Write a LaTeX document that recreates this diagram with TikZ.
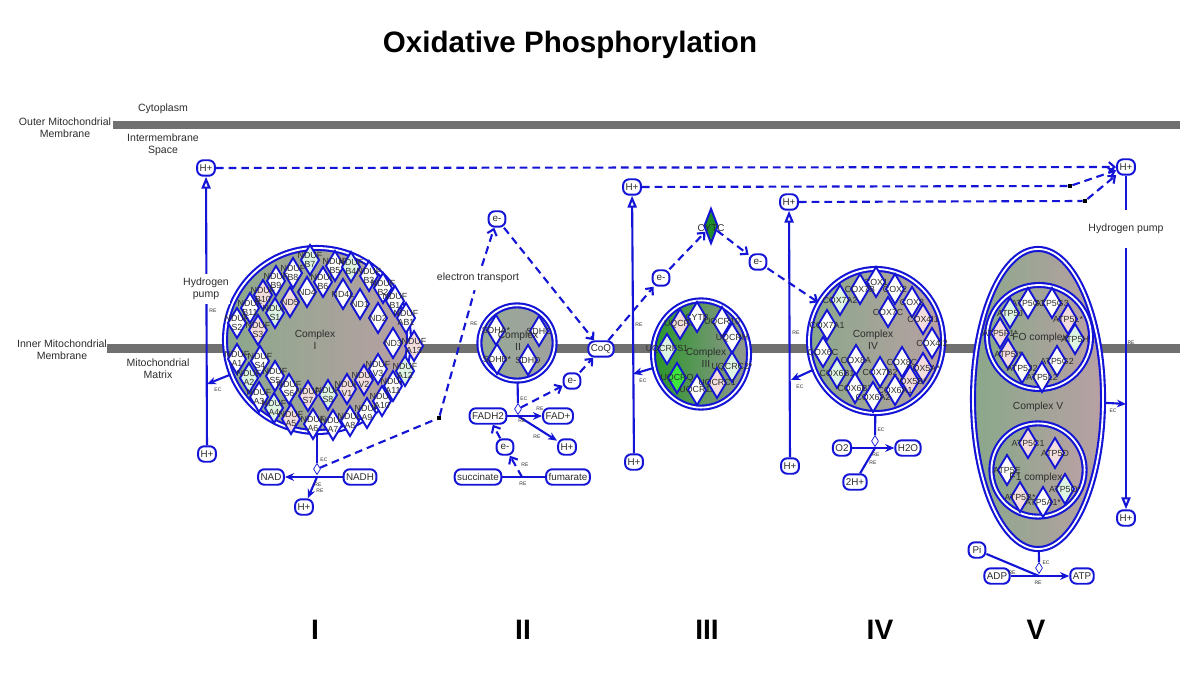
\documentclass[tikz,border=0pt]{standalone}
\usepackage{fontspec}
\setmainfont{Liberation Sans}
\usetikzlibrary{arrows.meta,shapes.geometric}
\definecolor{blu}{RGB}{20,20,215}
\definecolor{memb}{RGB}{112,112,112}
\definecolor{gL}{RGB}{138,168,138}
\definecolor{gR}{RGB}{184,160,164}
\definecolor{pk}{RGB}{242,220,220}
\definecolor{lg}{RGB}{222,244,226}
\definecolor{txt}{RGB}{45,45,45}
\definecolor{gIIL}{RGB}{150,170,150}
\definecolor{gIIR}{RGB}{160,160,158}
\definecolor{gIIIL}{RGB}{40,150,40}
\definecolor{gIIIM}{RGB}{70,150,60}
\definecolor{gIIIR}{RGB}{150,152,148}
\definecolor{bgr}{RGB}{60,230,60}
\definecolor{cytcg}{RGB}{30,140,40}
\newcounter{dmc}
\newcounter{tlc}
\newcommand\dmd[4][white]{\stepcounter{dmc}%
  \draw[blu, line width=1.35pt, fill=#1] (#2,#3) ++(0,-15) -- ++(9,15) -- ++(-9,15) -- ++(-9,-15) -- cycle;%
  \node[dlab] (dm\arabic{dmc}) at (#2,#3) {#4};}
\newcommand\tl[3]{\stepcounter{tlc}\node[tiny] (tl\arabic{tlc}) at (#1,#2) {#3};}
\begin{document}
\begin{tikzpicture}[x=0.025cm,y=-0.025cm,
  lab/.style={font=\fontsize{7.5}{8.6}\selectfont, text=txt, align=center, inner sep=1pt},
  dlab/.style={font=\fontsize{6.3}{6.7}\selectfont, text=txt, align=center, inner sep=0pt},
  clab/.style={font=\fontsize{7.3}{8.3}\selectfont, text=txt, align=center, inner sep=0pt},
  tiny/.style={font=\fontsize{3.6}{4}\selectfont, text=txt, inner sep=0pt},
  mol/.style={draw=blu, line width=1.4pt, fill=white, rounded corners=4.5pt, font=\fontsize{7}{8}\selectfont, text=txt, inner xsep=1.8pt, inner ysep=0pt, minimum height=11pt, minimum width=12pt},
  cplx/.style={draw=blu, line width=1.5pt, double=white, double distance=1.3pt, inner sep=0pt},
  sol/.style={blu, line width=1.5pt},
  dsh/.style={blu, line width=1.5pt, dash pattern=on 5.5pt off 3.5pt},
  arr/.style={-{Stealth[length=6.5pt,width=5.5pt]}},
  darr/.style={-{Straight Barb[length=4pt,width=7pt]}},
  opn/.style={-{Triangle[open,length=8.5pt,width=6.5pt,fill=white]}},
  jn/.style={diamond, draw=blu, fill=white, line width=0.5pt, minimum width=5pt, minimum height=8pt, inner sep=0pt},
  mk/.style={rectangle, fill=black, minimum size=3pt, inner sep=0pt},
  roman/.style={font=\bfseries\fontsize{20}{22}\selectfont}]
\useasboundingbox (0,0) rectangle (1200,674);
\fill[white] (0,0) rectangle (1200,674);

\node[font=\bfseries\fontsize{21}{24}\selectfont] (title) at (570,45) {Oxidative Phosphorylation};

% membranes
\fill[memb] (113,121) rectangle (1180,129);
\fill[memb] (107,344) rectangle (1180,353);
\node[lab] (cyt) at (163,109) {Cytoplasm};
\node[lab] (omm) at (65,128) {Outer Mitochondrial\\Membrane};
\node[lab] (ims) at (163,145) {Intermembrane\\Space};
\node[lab] (imm) at (62,350) {Inner Mitochondrial\\Membrane};
\node[lab] (mat) at (158,369) {Mitochondrial\\Matrix};

% complexes (bodies)
\node[cplx, circle, minimum size=4.6cm, left color=gL, right color=gR] (cI) at (317,340) {};
\node[cplx, circle, minimum size=1.88cm, left color=gIIL, right color=gIIR] (cII) at (517,343) {};
\node[cplx, ellipse, minimum width=2.4cm, minimum height=2.68cm, left color=gIIIL, middle color=gIIIM, right color=gIIIR] (cIII) at (701,354) {};
\node[cplx, ellipse, minimum width=3.35cm, minimum height=3.6cm, left color=gL, right color=gR] (cIV) at (876,341) {};
\node[cplx, ellipse, minimum width=3.25cm, minimum height=7.5cm, left color=gL, right color=gR] (cV) at (1038,399) {};
\node[cplx, circle, minimum width=2.43cm, minimum height=2.6cm, left color=gL, right color=gR] (FO) at (1039,337) {};
\node[cplx, circle, minimum width=2.18cm, minimum height=2.33cm, left color=gL, right color=gR] (F1) at (1038,470) {};

% Complex I subunits
\dmd[lg]{310}{260}{NDUF\\B7}
\dmd{293}{273}{NDUF\\B8}
\dmd{276}{281}{NDUF\\B9}
\dmd[pk]{263}{295}{NDUF\\B10}
\dmd{250}{308}{NDUF\\B11}
\dmd{237}{323}{NDUF\\S2}
\dmd[pk]{258}{330}{NDUF\\S3}
\dmd[lg]{275}{313}{NDUF\\S1}
\dmd[pk]{290}{302}{ND5}
\dmd{307}{292}{ND4}
\dmd{323}{282}{NDUF\\B6}
\dmd{335}{266}{NDUF\\B5}
\dmd[lg]{351}{267}{NDUF\\B4}
\dmd{369}{276}{NDUF\\B3}
\dmd{383}{288}{NDUF\\B2}
\dmd{395}{301}{NDUF\\B1}
\dmd{406}{318}{NDUF\\AB1}
\dmd{343}{294}{ND4L}
\dmd{360}{304}{ND1}
\dmd{378}{318}{ND2}
\dmd{393}{343}{ND3}
\dmd[pk]{414}{346}{NDUF\\A13}
\dmd{237}{359}{NDUF\\A1}
\dmd{260}{361}{NDUF\\S4}
\dmd[lg]{249}{378}{NDUF\\A2}
\dmd{275}{376}{NDUF\\S5}
\dmd{259}{397}{NDUF\\A3}
\dmd{289}{389}{NDUF\\S6}
\dmd[lg]{274}{408}{NDUF\\A4}
\dmd[pk]{308}{396}{NDUF\\S7}
\dmd[pk]{291}{419}{NDUF\\A5}
\dmd{313}{424}{NDUF\\A6}
\dmd[lg]{328}{395}{NDUF\\S8}
\dmd{333}{425}{NDUF\\A7}
\dmd[pk]{347}{389}{NDUF\\V1}
\dmd{350}{421}{NDUF\\A8}
\dmd[pk]{364}{380}{NDUF\\V2}
\dmd{367}{413}{NDUF\\A9}
\dmd{378}{369}{NDUF\\V3}
\dmd{382}{401}{NDUF\\A10}
\dmd{393}{386}{NDUF\\A11}
\dmd[lg]{405}{371}{NDUF\\A12}
\node[clab] (cIl) at (315,340) {Complex\\I};

% Complex II subunits
\dmd{496}{330}{SDHA*}
\dmd{539}{331}{SDHC}
\dmd{497}{359}{SDHB*}
\dmd{528}{360}{SDHD}
\node[clab] (cIIl) at (518,341) {Complex\\II};

% Complex III subunits
\dmd[pk]{680}{324}{UQCRB}
\dmd{697}{317}{CYTB}
\dmd{722}{322}{UQCR10}
\dmd{732}{338}{UQCRH}
\dmd[lg]{667}{349}{UQCRFS1}
\dmd[lg]{732}{367}{UQCRC2*}
\dmd[bgr]{677}{378}{UQCRQ}
\dmd{697}{390}{UQCR11}
\dmd[pk]{717}{383}{UQCRC1}
\node[clab] (cIIIl) at (706,358) {Complex\\III};

% Complex IV subunits
\dmd{876}{282}{COX1}
\dmd{860}{289}{COX7B}
\dmd{895}{289}{COX2}
\dmd[lg]{840}{300}{COX7A2}
\dmd{912}{302}{COX3}
\dmd{888}{312}{COX7C}
\dmd[pk]{923}{319}{COX4I1}
\dmd{827}{325}{COX7A1}
\dmd{932}{343}{COX4I2}
\dmd{823}{352}{COX6C}
\dmd{856}{360}{COX8A}
\dmd{902}{362}{COX8C}
\dmd[pk]{923}{368}{COX5A*}
\dmd[lg]{837}{373}{COX6B1}
\dmd{880}{372}{COX7B2}
\dmd[pk]{910}{381}{COX5B*}
\dmd{855}{388}{COX6B2}
\dmd{895}{390}{COX6A1}
\dmd{873}{397}{COX6A2}
\node[clab] (cIVl) at (873,340) {Complex\\IV};

% Complex V subunits
\dmd{1028}{303}{ATP5G1}
\dmd{1052}{303}{ATP5G3}
\dmd[lg]{1010}{313}{ATP5J}
\dmd[pk]{1068}{319}{ATP5L*}
\dmd[pk]{1000}{333}{ATP5F1*}
\dmd[lg]{1075}{339}{ATP5H}
\dmd[pk]{1008}{354}{ATP5I*}
\dmd{1022}{368}{ATP5J2}
\dmd{1057}{361}{ATP5G2}
\dmd{1042}{377}{ATP5L2}
\dmd[pk]{1028}{443}{ATP5C1}
\dmd[pk]{1055}{453}{ATP5D}
\dmd{1007}{470}{ATP5E}
\dmd[lg]{1065}{489}{ATP5O*}
\dmd[pk]{1020}{497}{ATP5B*}
\dmd{1043}{502}{ATP5A1*}
\node[clab] (FOl) at (1040,338) {FO complex};
\node[clab] (F1l) at (1036,478) {F1 complex};
\node[clab] (cVl) at (1038,407) {Complex V};

% molecules
\node[mol] (hIt) at (206,168) {H+};
\node[mol] (hIb) at (207,454) {H+};
\node[mol] (NAD) at (271,477) {NAD};
\node[mol] (NADH) at (360,477) {NADH};
\node[mol] (hIr) at (304,507) {H+};
\node[mol] (eA) at (497,219) {e-};
\node[mol] (CoQ) at (601,349) {CoQ};
\node[mol] (eB) at (572,381) {e-};
\node[mol] (FADH2) at (488,416) {FADH2};
\node[mol] (FAD) at (558,416) {FAD+};
\node[mol] (hII) at (567,447) {H+};
\node[mol] (eC) at (505,447) {e-};
\node[mol] (succ) at (478,477) {succinate};
\node[mol] (fum) at (568,477) {fumarate};
\node[mol] (hIIIt) at (632,187) {H+};
\node[mol] (hIIIb) at (634,462) {H+};
\node[mol] (eD) at (661,278) {e-};
\node[diamond, draw=blu, fill=cytcg, line width=1.4pt, minimum width=10pt, minimum height=25pt, inner sep=0pt] (cytc) at (711,226) {};
\node[dlab, font=\fontsize{7}{8}\selectfont] (cytcl) at (711,228) {CYTC};
\node[mol] (eE) at (758,262) {e-};
\node[mol] (hIVt) at (789,202) {H+};
\node[mol] (hIVb) at (790,466) {H+};
\node[mol] (O2) at (842,448) {O2};
\node[mol] (H2O) at (908,448) {H2O};
\node[mol] (h2) at (855,482) {2H+};
\node[mol] (hVt) at (1126,167) {H+};
\node[mol] (hVb) at (1126,518) {H+};
\node[mol] (Pi) at (977,550) {Pi};
\node[mol] (ADP) at (997,576) {ADP};
\node[mol] (ATP) at (1082,576) {ATP};

% junctions and markers
\node[jn] (jI) at (317,469) {};
\coordinate (kI) at (317,477);
\node[jn] (jII) at (518,409) {};
\coordinate (kII) at (518,416);
\coordinate (kS) at (522,477);
\node[jn] (jIV) at (875,441) {};
\coordinate (kIV) at (875,448);
\node[jn] (jV) at (1039,568) {};
\coordinate (kV) at (1039,576);
\node[mk] (m0) at (439,418) {};
\node[mk] (m1) at (1070,186) {};
\node[mk] (m2) at (1085,201) {};
\coordinate (pI) at (207,384);
\coordinate (pIII) at (633,374);
\coordinate (pIV) at (791,380);
\coordinate (pV) at (1126,404);

% hydrogen pumps
\draw[sol, opn] (hIb) -- (hIt);
\draw[sol, opn] (hIIIb) -- (hIIIt);
\draw[sol, opn] (hIVb) -- (hIVt);
\draw[sol, opn] (hVt) -- (hVb);
\node[lab, fill=white, inner ysep=3pt] (hpI) at (206,289) {Hydrogen\\pump};
\node[lab, fill=white, inner ysep=10pt] (hpV) at (1126,229) {Hydrogen pump};

% proton transport to IMS
\draw[dsh, darr] (hIt) -- (hVt);
\draw[dsh] (hIIIt) -- (m1);
\draw[dsh, darr] (m1) -- (hVt);
\draw[dsh] (hIVt) -- (m2);
\draw[dsh, darr] (m2) -- (hVt);

% EC arrows into pumps
\draw[sol, arr] (cI) -- (pI);
\draw[sol, arr] (cIII) -- (pIII);
\draw[sol, arr] (cIV) -- (pIV);
\draw[sol, arr] (cV) -- (pV);

% complex I reaction
\draw[sol] (cI) -- (jI);
\draw[sol, arr] (NADH) -- (NAD);
\draw[sol, arr] (kI) -- (hIr);

% electron transport
\node[lab, inner sep=5pt] (etr) at (478,278) {electron transport};
\draw[dsh] (jI) -- (m0);
\draw[dsh] (m0) -- (etr);
\draw[dsh, darr] (etr) -- (eA);
\draw[dsh, darr] (eA) -- (CoQ);
\draw[dsh, darr] (jII) -- (eB);
\draw[dsh, darr] (eB) -- (CoQ);
\draw[dsh, darr] (CoQ) -- (eD);
\draw[dsh, darr] (eD) -- (cytc);
\draw[dsh, darr] (cytc) -- (eE);
\draw[dsh, darr] (eE) -- (cIV);

% complex II reaction
\draw[sol] (cII) -- (jII);
\draw[sol, arr] (FADH2) -- (FAD);
\draw[sol, arr] (kII) -- (hII);
\draw[dsh, darr] (eC) -- (FADH2);
\draw[sol] (succ) -- (fum);
\draw[dsh, darr] (kS) -- (eC);

% complex IV reaction
\draw[sol] (cIV) -- (jIV);
\draw[sol, arr] (O2) -- (H2O);
\draw[sol] (h2) -- (kIV);

% complex V reaction
\draw[sol] (cV) -- (jV);
\draw[sol, arr] (ADP) -- (ATP);
\draw[sol] (Pi) -- (kV);

% tiny edge labels
\tl{213}{311}{RE}
\tl{218}{390}{EC}
\tl{324}{460}{EC}
\tl{318}{485}{RE}
\tl{320}{491}{RE}
\tl{474}{324}{RE}
\tl{524}{399}{EC}
\tl{540}{409}{RE}
\tl{522}{421}{RE}
\tl{537}{437}{RE}
\tl{525}{465}{RE}
\tl{523}{484}{RE}
\tl{639}{325}{RE}
\tl{643}{381}{EC}
\tl{796}{333}{RE}
\tl{800}{387}{EC}
\tl{881}{430}{EC}
\tl{876}{455}{RE}
\tl{873}{463}{RE}
\tl{1131}{343}{RE}
\tl{1113}{411}{EC}
\tl{1046}{563}{EC}
\tl{1012}{573}{RE}
\tl{1038}{583}{RE}

% roman numerals
\node[roman] (rI) at (315,630) {I};
\node[roman] (rII) at (523,630) {II};
\node[roman] (rIII) at (707,630) {III};
\node[roman] (rIV) at (880,630) {IV};
\node[roman] (rV) at (1036,630) {V};
\end{tikzpicture}
\end{document}
